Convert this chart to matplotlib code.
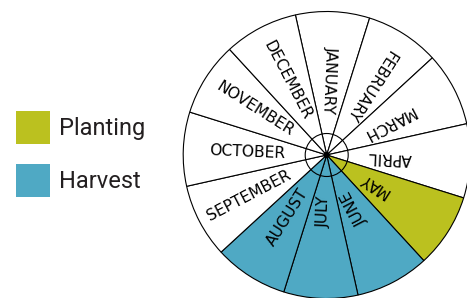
import numpy as np
import matplotlib.pyplot as plt
from matplotlib.patches import Patch, Circle

months = ['JANUARY', 'FEBRUARY', 'MARCH', 'APRIL', 'MAY', 'JUNE',
          'JULY', 'AUGUST', 'SEPTEMBER', 'OCTOBER', 'NOVEMBER', 'DECEMBER']
month_share = [1, 1, 1, 1, 1, 1, 1, 1, 1, 1, 1, 1]
planting = ['MAY']
harvest = ['JUNE', 'JULY', 'AUGUST']

c_plant = '#bbc11f'
c_harv = '#4fa9c4'

cols = []
for m in months:
    if m in planting:
        cols.append(c_plant)
    elif m in harvest:
        cols.append(c_harv)
    else:
        cols.append('white')

fig = plt.figure(figsize=(4.67, 2.98), dpi=100)
ax = fig.add_axes([0, 0, 1, 1])

# wheel geometry in pixel units
cx, cy, R = 326.7, 143.0, 143.5
wedges, _ = ax.pie(month_share, colors=cols, startangle=90 + 12.6,
                   counterclock=False, center=(cx, cy), radius=R,
                   wedgeprops=dict(edgecolor='black', linewidth=0.8))

# month labels, reading towards the centre
for w, m in zip(wedges, months):
    mid = (w.theta1 + w.theta2) / 2
    a = np.deg2rad(mid)
    ax.text(cx + 41 * np.cos(a), cy + 41 * np.sin(a), m,
            rotation=(mid + 180) % 360, rotation_mode='anchor',
            ha='right', va='center', fontsize=11.2, color='black')

ax.add_patch(Circle((cx, cy), 21.5, fill=False, lw=0.8, ec='black', zorder=5))
ax.add_patch(Circle((cx, cy), 2.4, color='black', zorder=6))

handles = [Patch(facecolor=c_plant, label='Planting'),
           Patch(facecolor=c_harv, label='Harvest')]
ax.legend(handles=handles, loc='upper left', bbox_to_anchor=(16, 298 - 110.7),
          bbox_transform=ax.transData, frameon=False, borderpad=0,
          borderaxespad=0, handlelength=1.42, handleheight=1.77,
          handletextpad=0.42, labelspacing=0.87, labelcolor='#231f20',
          prop=dict(family='Roboto', size=17))

ax.set_xlim(0, 467)
ax.set_ylim(0, 298)
ax.set_aspect('equal')
ax.axis('off')

fig.savefig('out.png', dpi=100)
